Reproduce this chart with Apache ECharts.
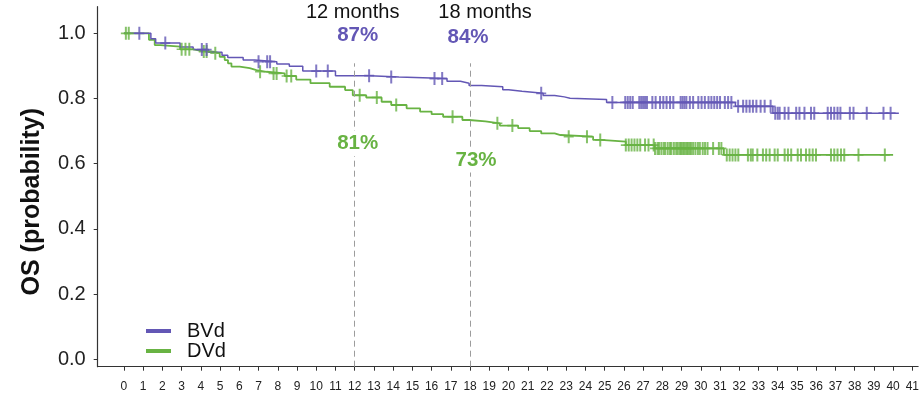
<!DOCTYPE html>
<html>
<head>
<meta charset="utf-8">
<script src="https://cdn.jsdelivr.net/npm/echarts@6/dist/echarts.min.js"></script>
<style>
  html, body { margin: 0; padding: 0; background: #fff; }
  #chart { width: 922px; height: 394px; }
</style>
</head>
<body>
<div id="chart"></div>
<script>
// Kaplan–Meier overall survival, BVd vs DVd

const monthTicks = [0, 1, 2, 3, 4, 5, 6, 7, 8, 9, 10, 11, 12, 13, 14, 15, 16, 17, 18, 19, 20,
  21, 22, 23, 24, 25, 26, 27, 28, 29, 30, 31, 32, 33, 34, 35, 36, 37, 38, 39, 40, 41];
const probTicks = [0, 0.2, 0.4, 0.6, 0.8, 1.0];

// BVd step function (month, survival after the step)
const bvdTime = [0, 1.4, 1.65, 2.92, 3.6, 4.4, 5.1, 5.4, 6.2, 6.8, 7.95, 8.6, 9.3, 11.0, 12.8, 14.3,
  16.8, 17.5, 17.95, 18.6, 19.7, 20.0, 20.7, 21.8, 22.4, 22.9, 23.2, 25.1, 31.8, 33.75, 40.3];
const bvdSurv = [1.0, 0.983, 0.970, 0.958, 0.950, 0.942, 0.933, 0.926, 0.918, 0.913, 0.906, 0.899, 0.884, 0.870, 0.866, 0.861,
  0.853, 0.847, 0.840, 0.836, 0.827, 0.822, 0.816, 0.809, 0.805, 0.801, 0.797, 0.788, 0.776, 0.755, 0.755];
const bvdCensor = [0.8, 2.15, 4.05, 4.3, 7.0, 7.45, 7.6, 10.0, 10.6, 12.75, 13.9, 16.15, 16.55, 21.7, 25.4,
  26.07, 26.2, 26.33, 26.46, 26.8, 26.9, 27.0, 27.1, 27.2, 27.48, 27.65, 27.88, 28.05, 28.22, 28.4, 28.57,
  28.95, 29.05, 29.15, 29.25, 29.43, 29.6, 29.87, 30.04, 30.21, 30.4, 30.55, 30.7, 30.85, 31.0, 31.25, 31.42,
  31.59, 31.94, 32.2, 32.37, 32.54, 32.71, 32.89, 33.11, 33.32, 33.63, 33.87, 34.0, 34.1, 34.36, 34.56,
  34.96, 35.13, 35.39, 35.73, 35.9, 36.6, 36.77, 36.94, 37.11, 37.26, 37.75, 37.94, 38.63, 39.5, 39.87];

// DVd step function
const dvdTime = [0, 1.3, 1.6, 1.9, 2.92, 3.6, 3.95, 4.64, 4.98, 5.24, 5.41, 5.59, 6.02, 6.54, 6.89, 7.41, 8.36,
  8.96, 9.7, 10.7, 11.5, 11.9, 12.6, 13.4, 13.9, 14.7, 15.4, 16.0, 16.6, 17.6, 17.95, 18.8, 19.55, 20.5,
  21.1, 21.7, 22.4, 22.7, 24.4, 24.8, 26.1, 27.6, 31.2, 40.0];
const dvdSurv = [1.0, 0.980, 0.964, 0.959, 0.951, 0.947, 0.944, 0.939, 0.928, 0.918, 0.908, 0.898, 0.893, 0.887, 0.882, 0.877, 0.869,
  0.858, 0.847, 0.836, 0.826, 0.810, 0.803, 0.790, 0.780, 0.770, 0.760, 0.752, 0.744, 0.734, 0.730, 0.724, 0.717, 0.709,
  0.700, 0.693, 0.688, 0.683, 0.673, 0.668, 0.657, 0.647, 0.627, 0.627];
const dvdCensor = [0.1, 0.25, 3.0, 3.2, 3.4, 4.15, 4.3, 4.75, 7.08, 7.78, 7.94, 8.46, 8.7, 12.26, 13.15, 14.16,
  17.09, 19.42, 20.2, 23.13, 24.08, 24.77, 26.1, 26.25, 26.4, 26.55, 26.7, 26.85, 27.1, 27.28,
  27.55, 27.62, 27.75, 27.83, 27.95, 28.07, 28.15, 28.28, 28.4, 28.47, 28.6, 28.72, 28.8, 28.9, 28.97,
  29.05, 29.12, 29.2, 29.28, 29.35, 29.43, 29.5, 29.6, 29.72, 29.85, 29.95, 30.1, 30.22, 30.35,
  30.64, 30.94, 31.07, 31.35, 31.5, 31.65, 31.8, 31.95, 32.45, 32.6, 32.7, 32.94, 33.23, 33.4, 33.58,
  33.84, 34.0, 34.36, 34.53, 34.7, 35.04, 35.21, 35.47, 35.65, 35.82, 35.99, 36.77, 36.94, 37.11,
  37.29, 37.46, 38.2, 39.57];

const landmarkMonths = [12, 18];

const FONT = '"Liberation Sans", Arial, Helvetica, sans-serif';
const PURPLE = '#6357b5';
const GREEN = '#68b343';
const X_MIN = -1.365, X_MAX = 41.3;
const Y_MIN = -0.0227, Y_MAX = 1.0816;

// survival value in force at time t
function survAt(times, surv, t) {
  let v = surv[0];
  for (let i = 0; i < times.length; i++) {
    if (times[i] <= t) v = surv[i]; else break;
  }
  return v;
}

// "+" censoring tick
const plusMark = 'path://M-0.2,-1L0.2,-1L0.2,1L-0.2,1Z M-1,-0.13L1,-0.13L1,0.13L-1,0.13Z';

function stepSeries(name, times, surv, color, width) {
  return {
    name: name, type: 'line', step: 'end', color: color,
    data: times.map((t, i) => [t, surv[i]]),
    symbol: 'none', showSymbol: false,
    lineStyle: { width: width, color: color }, z: 3
  };
}
function censorSeries(name, times, surv, marks, color) {
  return {
    name: name, type: 'scatter', color: color,
    data: marks.map(t => [t, survAt(times, surv, t)]),
    symbol: plusMark, symbolSize: [10, 13], symbolKeepAspect: false,
    itemStyle: { color: color }, z: 4, silent: true
  };
}

const chart = echarts.init(document.getElementById('chart'), null, { renderer: 'canvas' });

const bvdLine = stepSeries('BVd', bvdTime, bvdSurv, PURPLE, 1.5);
bvdLine.markLine = {
  silent: true, symbol: 'none', label: { show: false },
  lineStyle: { type: [6, 4], color: '#9c9c9c', width: 1 },
  data: landmarkMonths.map(m => [{ coord: [m, Y_MIN] }, { coord: [m, 0.908] }])
};

chart.setOption({
  animation: false,
  grid: { left: 97.7, right: 2, top: 6.7, bottom: 27.3 },
  xAxis: {
    type: 'value', min: X_MIN, max: X_MAX,
    axisLine: { onZero: false, lineStyle: { color: '#333', width: 1.2 } },
    axisTick: { customValues: monthTicks, length: 4, lineStyle: { color: '#333', width: 1 } },
    axisLabel: { customValues: monthTicks, fontSize: 12, color: '#222', margin: 14, fontFamily: FONT },
    splitLine: { show: false }
  },
  yAxis: {
    type: 'value', min: Y_MIN, max: Y_MAX,
    name: 'OS (probability)', nameLocation: 'middle', nameGap: 53,
    nameTextStyle: { fontSize: 25, fontWeight: 'bold', color: '#111', fontFamily: FONT, padding: [0, 30, 0, 0] },
    axisLine: { show: true, onZero: false, lineStyle: { color: '#333', width: 1.2 } },
    axisTick: { show: true, customValues: probTicks, length: 4, lineStyle: { color: '#333', width: 1 } },
    axisLabel: { customValues: probTicks, formatter: v => v.toFixed(1), fontSize: 20, color: '#222', margin: 12, fontFamily: FONT },
    splitLine: { show: false }
  },
  legend: {
    orient: 'vertical', left: 146, top: 321, padding: 0,
    itemWidth: 25, itemHeight: 4, itemGap: 0, icon: 'rect', selectedMode: false,
    data: ['BVd', 'DVd'],
    textStyle: { fontSize: 20, color: '#111', fontFamily: FONT, lineHeight: 16, padding: [0, 0, 0, 11] }
  },
  series: [
    stepSeries('DVd', dvdTime, dvdSurv, GREEN, 1.8),
    bvdLine,
    censorSeries('DVd censored', dvdTime, dvdSurv, dvdCensor, GREEN),
    censorSeries('BVd censored', bvdTime, bvdSurv, bvdCensor, PURPLE)
  ]
});

// landmark annotations placed along the month axis
const layout = {
  headerY: 12, headerDx: [-2, 15],
  bvdY: [35, 37], bvdDx: [3, -2],
  dvdY: [143.5, 160], dvdDx: [3, 6]
};
const pct = v => Math.round(v * 100) + '%';
const elements = [];
landmarkMonths.forEach((m, i) => {
  const x = chart.convertToPixel({ gridIndex: 0 }, [m, 0])[0];
  elements.push({
    type: 'text', x: x + layout.headerDx[i], y: layout.headerY, z: 100,
    style: { text: m + ' months', fontSize: 20, fontFamily: FONT, fill: '#111', align: 'center', verticalAlign: 'middle' }
  });
  elements.push({
    type: 'text', x: x + layout.bvdDx[i], y: layout.bvdY[i], z: 100,
    style: { text: pct(survAt(bvdTime, bvdSurv, m)), fontSize: 20.5, fontWeight: 'bold', fontFamily: FONT, fill: PURPLE, align: 'center', verticalAlign: 'middle' }
  });
  elements.push({
    type: 'text', x: x + layout.dvdDx[i], y: layout.dvdY[i], z: 100,
    style: { text: pct(survAt(dvdTime, dvdSurv, m)), fontSize: 20.5, fontWeight: 'bold', fontFamily: FONT, fill: GREEN, align: 'center', verticalAlign: 'middle', backgroundColor: '#fff', padding: [2, 1] }
  });
});
chart.setOption({ graphic: { elements: elements } });
</script>
</body>
</html>
